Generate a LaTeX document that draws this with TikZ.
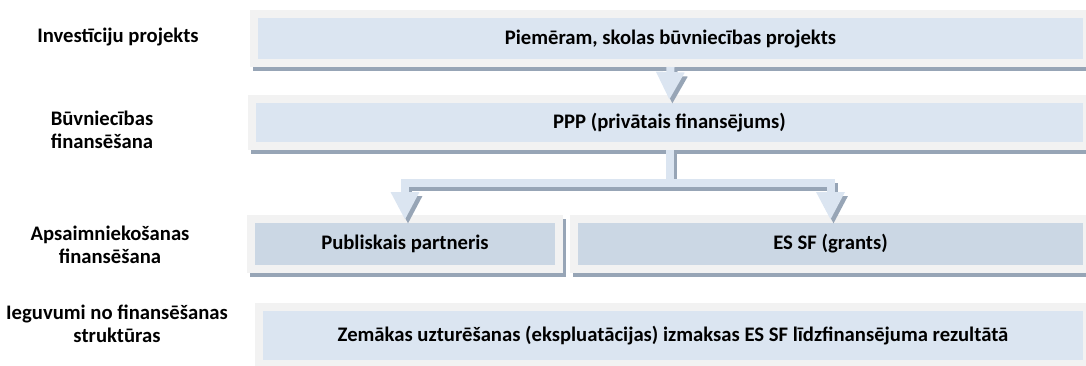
\documentclass[tikz,border=0pt]{standalone}
\usepackage{fontspec}
\setmainfont{Carlito}
\usetikzlibrary{arrows.meta}
\definecolor{framegray}{HTML}{F2F2F2}
\definecolor{paleblue}{HTML}{DBE5F1}
\definecolor{midblue}{HTML}{CBD7E4}
\definecolor{shade}{HTML}{97A5B6}
\pgfdeclarelayer{background}
\pgfsetlayers{background,main}
\begin{document}
\begin{tikzpicture}[x=0.75pt,y=-0.75pt,
  txt/.style={font=\bfseries\fontsize{15.5}{17.25}\selectfont},
  box/.style={txt, draw=framegray, line width=6pt, fill=paleblue, inner sep=0pt},
  darkbox/.style={box, fill=midblue},
  lbl/.style={txt, align=center, inner sep=0pt},
  flow/.style={draw=paleblue, line width=6pt, line join=miter,
    -{Triangle[width=20pt,length=21pt]}, shorten >=-3.75pt},
  flowshade/.style={flow, draw=shade,
    transform canvas={xshift=2.25pt,yshift=-3pt}},
  shadow/.style={fill=shade}]
\useasboundingbox (0,0) rectangle (1086,365);

% row labels
\node[lbl] (l1) at (118,37)  {Investīciju projekts};
\node[lbl] (l2) at (102,130) {Būvniecības\\finansēšana};
\node[lbl] (l3) at (110,245) {Apsaimniekošanas\\finansēšana};
\node[lbl] (l4) at (117,324) {Ieguvumi no finansēšanas\\struktūras};

% boxes
\node[box, minimum width=833*0.75pt, minimum height=49*0.75pt] (b1) at (670.5,38.5)
  {Piemēram, skolas būvniecības projekts};
\node[box, minimum width=835*0.75pt, minimum height=47*0.75pt] (b2) at (669.5,122.5)
  {PPP (privātais finansējums)};
\node[darkbox, minimum width=308*0.75pt, minimum height=50*0.75pt] (p3a) at (405,244)
  {Publiskais partneris};
\node[darkbox, minimum width=513*0.75pt, minimum height=50*0.75pt] (p3b) at (830.5,244)
  {ES SF (grants)};
\node[box, minimum width=828*0.75pt, minimum height=57*0.75pt] (b4) at (673,335.5)
  {Zemākas uzturēšanas (ekspluatācijas) izmaksas ES SF līdzfinansējuma rezultātā};

% drop shadows behind the boxes
\begin{pgfonlayer}{background}
  \foreach \n in {b1,b2,p3a,p3b,b4}
    \fill[shadow] ([shift={(3,4)}]\n.north west) rectangle ([shift={(3,4)}]\n.south east);
\end{pgfonlayer}

% connectors
\coordinate (fork) at ([yshift=-24.75pt]b2.south);
\draw[flowshade] (b1.south) -- (b2.north);
\draw[flow] (b1.south) -- (b2.north);
\draw[flowshade] (b2.south) -- (fork) -| (p3a.north);
\draw[flowshade] (b2.south) -- (fork) -| (p3b.north);
\draw[flow] (b2.south) -- (fork) -| (p3a.north);
\draw[flow] (b2.south) -- (fork) -| (p3b.north);
\end{tikzpicture}
\end{document}
